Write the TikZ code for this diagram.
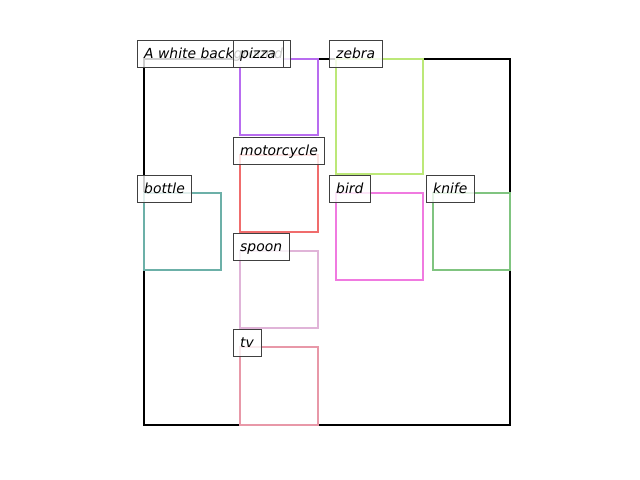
\documentclass[tikz,border=0pt]{standalone}
\usepackage{fontspec}
\setsansfont{DejaVu Sans}
\definecolor{cpizza}{HTML}{B86CF0}
\definecolor{czebra}{HTML}{BCE878}
\definecolor{cmoto}{HTML}{F06C6C}
\definecolor{cbottle}{HTML}{6CB0A8}
\definecolor{cbird}{HTML}{F07AE0}
\definecolor{cknife}{HTML}{80C480}
\definecolor{cspoon}{HTML}{E0B4D8}
\definecolor{ctv}{HTML}{E898A8}
\begin{document}
\begin{tikzpicture}[x=0.72pt, y=-0.72pt,
  frame/.style={draw=black, line width=1.6pt},
  bbox/.style={line width=1.6pt},
  tag/.style={draw=black!75, fill=white, fill opacity=0.8, text opacity=1,
              font=\sffamily\itshape, anchor=south west, inner xsep=5pt,
              inner ysep=5pt, text height=8.5pt, text depth=1.5pt}
]
  \useasboundingbox (0,0) rectangle (640,480);
  \draw[frame] (144,59) rectangle (510,425);

  \draw[bbox, cpizza]  (240,59)  rectangle (318,135);
  \draw[bbox, czebra]  (336,59)  rectangle (423,174);
  \draw[bbox, cmoto]   (240,155) rectangle (318,232);
  \draw[bbox, cbottle] (144,193) rectangle (221,270);
  \draw[bbox, cbird]   (336,193) rectangle (423,280);
  \draw[bbox, cknife]  (433,193) rectangle (510,270);
  \draw[bbox, cspoon]  (240,251) rectangle (318,328);
  \draw[bbox, ctv]     (240,347) rectangle (318,425);

  \node[tag] (bg)     at (137,68)  {A white background};
  \node[tag] (pizza)  at (233,68)  {pizza};
  \node[tag] (zebra)  at (329,68)  {zebra};
  \node[tag] (moto)   at (233,165) {motorcycle};
  \node[tag] (bottle) at (137,203) {bottle};
  \node[tag] (bird)   at (329,203) {bird};
  \node[tag] (knife)  at (426,203) {knife};
  \node[tag] (spoon)  at (233,261) {spoon};
  \node[tag] (tv)     at (233,357) {tv};
\end{tikzpicture}
\end{document}
